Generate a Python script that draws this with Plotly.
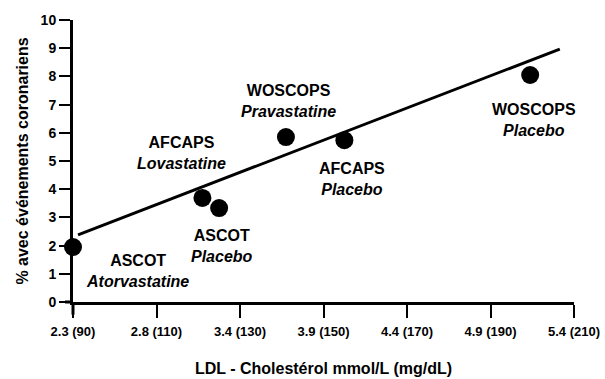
import plotly.graph_objects as go

# ---- data ----
trials = ["ASCOT", "ASCOT", "AFCAPS", "WOSCOPS", "AFCAPS", "WOSCOPS"]
arms = ["Atorvastatine", "Placebo", "Lovastatine", "Pravastatine", "Placebo", "Placebo"]
ldl_mgdl = [90, 125, 121, 141, 155, 199.5]
event_pct = [1.95, 3.33, 3.69, 5.85, 5.74, 8.05]

trend_x = [91.2, 206.6]
trend_y = [2.38, 8.97]

tick_vals = [90, 110, 130, 150, 170, 190, 210]
tick_text = ["2.3 (90)", "2.8 (110)", "3.4 (130)", "3.9 (150)", "4.4 (170)", "4.9 (190)", "5.4 (210)"]
y_ticks = list(range(0, 11))

# label offsets in pixels (layout only)
label_shift = [(64, -24), (3, -38), (-21, 45), (3, 36), (8, -39), (4, -45)]

FONT = "Liberation Sans, Arial, sans-serif"

fig = go.Figure()
fig.add_trace(go.Scatter(x=trend_x, y=trend_y, mode="lines",
                         line=dict(color="black", width=3), hoverinfo="skip",
                         showlegend=False, cliponaxis=False))
fig.add_trace(go.Scatter(x=ldl_mgdl, y=event_pct, mode="markers",
                         marker=dict(color="black", size=18), showlegend=False,
                         cliponaxis=False))

for t, a, x, y, (dx, dy) in zip(trials, arms, ldl_mgdl, event_pct, label_shift):
    fig.add_annotation(x=x, y=y, xshift=dx, yshift=dy, showarrow=False,
                       text=f"<b>{t}</b><br><b><i>{a}</i></b>",
                       font=dict(family=FONT, size=16, color="black"),
                       align="center")

# axis overhangs
fig.add_shape(type="line", xref="paper", yref="paper", x0=0, x1=0, y0=-0.045, y1=0,
              line=dict(color="black", width=3))
fig.add_shape(type="line", xref="paper", yref="paper", x0=-0.016, x1=0, y0=0, y1=0,
              line=dict(color="black", width=3))

fig.update_layout(
    width=605, height=379,
    margin=dict(l=73, r=31, t=20, b=77, autoexpand=False),
    paper_bgcolor="white", plot_bgcolor="white",
    font=dict(family=FONT, color="black"),
    xaxis=dict(range=[90, 210], tickvals=tick_vals, ticktext=tick_text,
               automargin=False,
               showgrid=False, zeroline=False, showline=True, linecolor="black",
               linewidth=3, ticks="outside", ticklen=13, tickwidth=2, tickcolor="black",
               tickfont=dict(family=FONT, size=13, weight="bold"),
               ticklabelstandoff=2,
               title=dict(text="<b>LDL - Cholestérol mmol/L (mg/dL)</b>",
                          font=dict(family=FONT, size=16), standoff=26)),
    yaxis=dict(range=[0, 10], tickvals=y_ticks,
               automargin=False,
               showgrid=False, zeroline=False, showline=True, linecolor="black",
               linewidth=3, ticks="outside", ticklen=11, tickwidth=2, tickcolor="black",
               tickfont=dict(family=FONT, size=14, weight="bold"),
               title=dict(text="<b>% avec événements coronariens</b>",
                          font=dict(family=FONT, size=16), standoff=9)),
)

fig.write_html("out.html", config={"displayModeBar": False},
               post_script="document.body.style.margin='0';document.body.style.overflow='hidden';")
